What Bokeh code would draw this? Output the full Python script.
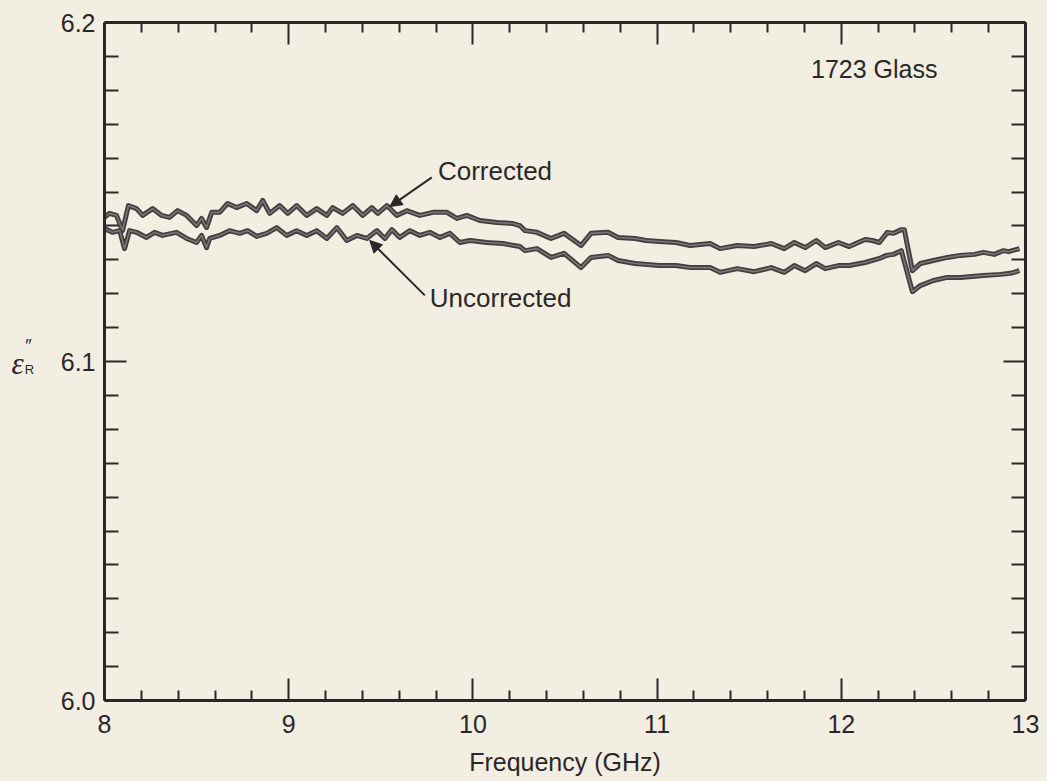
from bokeh.plotting import figure
from bokeh.layouts import row
from bokeh.models import (Range1d, FixedTicker, LinearAxis, Label, Arrow, NormalHead,
                          PrintfTickFormatter)
from bokeh.core.properties import value
from bokeh.embed import file_html
from bokeh.resources import INLINE

# Loss factor of 1723 glass versus frequency
freq_corrected = [
    8.000, 8.027, 8.065, 8.098, 8.130, 8.174, 8.207, 8.261, 8.310, 8.353,
    8.397, 8.446, 8.500, 8.527, 8.554, 8.582, 8.625, 8.668, 8.717, 8.772,
    8.826, 8.859, 8.897, 8.951, 8.995, 9.043, 9.098, 9.152, 9.207, 9.239,
    9.293, 9.348, 9.402, 9.451, 9.484, 9.533, 9.587, 9.641, 9.712, 9.783,
    9.859, 9.913, 9.967, 10.038, 10.130, 10.217, 10.255, 10.283, 10.348, 10.424,
    10.495, 10.587, 10.641, 10.734, 10.788, 10.880, 10.940, 11.011, 11.103, 11.179,
    11.288, 11.342, 11.435, 11.527, 11.620, 11.690, 11.745, 11.804, 11.864, 11.913,
    11.984, 12.043, 12.092, 12.130, 12.168, 12.207, 12.250, 12.283, 12.326, 12.342,
    12.386, 12.429, 12.500, 12.576, 12.647, 12.723, 12.772, 12.830, 12.880, 12.908,
    12.967,
]
eps_corrected = [
    6.1425, 6.1437, 6.1431, 6.1386, 6.1460, 6.1451, 6.1431, 6.1451, 6.1431, 6.1425,
    6.1445, 6.1431, 6.1401, 6.1422, 6.1395, 6.1440, 6.1440, 6.1466, 6.1454, 6.1466,
    6.1445, 6.1475, 6.1437, 6.1460, 6.1437, 6.1460, 6.1431, 6.1451, 6.1431, 6.1454,
    6.1437, 6.1460, 6.1431, 6.1454, 6.1437, 6.1460, 6.1431, 6.1445, 6.1431, 6.1440,
    6.1440, 6.1422, 6.1431, 6.1416, 6.1410, 6.1407, 6.1401, 6.1386, 6.1381, 6.1363,
    6.1378, 6.1342, 6.1378, 6.1381, 6.1366, 6.1363, 6.1357, 6.1354, 6.1351, 6.1342,
    6.1348, 6.1333, 6.1342, 6.1339, 6.1348, 6.1333, 6.1351, 6.1336, 6.1357, 6.1336,
    6.1351, 6.1339, 6.1351, 6.1360, 6.1357, 6.1351, 6.1381, 6.1378, 6.1389, 6.1389,
    6.1268, 6.1289, 6.1298, 6.1307, 6.1313, 6.1316, 6.1322, 6.1316, 6.1327, 6.1324,
    6.1333,
]

freq_uncorrected = [
    8.000, 8.043, 8.082, 8.109, 8.136, 8.174, 8.228, 8.272, 8.315, 8.391,
    8.446, 8.500, 8.527, 8.554, 8.571, 8.625, 8.679, 8.734, 8.777, 8.826,
    8.880, 8.935, 8.989, 9.043, 9.098, 9.152, 9.207, 9.261, 9.315, 9.370,
    9.424, 9.478, 9.522, 9.560, 9.603, 9.658, 9.712, 9.766, 9.821, 9.875,
    9.929, 9.984, 10.076, 10.163, 10.255, 10.283, 10.348, 10.424, 10.495, 10.587,
    10.641, 10.734, 10.788, 10.880, 11.011, 11.103, 11.179, 11.288, 11.342, 11.435,
    11.527, 11.620, 11.690, 11.745, 11.804, 11.864, 11.913, 11.984, 12.043, 12.130,
    12.207, 12.245, 12.283, 12.326, 12.386, 12.429, 12.500, 12.576, 12.647, 12.772,
    12.864, 12.918, 12.967,
]
eps_uncorrected = [
    6.1392, 6.1381, 6.1386, 6.1333, 6.1386, 6.1381, 6.1366, 6.1381, 6.1372, 6.1381,
    6.1363, 6.1351, 6.1372, 6.1336, 6.1363, 6.1372, 6.1386, 6.1378, 6.1386, 6.1369,
    6.1378, 6.1395, 6.1372, 6.1386, 6.1372, 6.1386, 6.1363, 6.1395, 6.1357, 6.1372,
    6.1363, 6.1386, 6.1363, 6.1389, 6.1366, 6.1386, 6.1372, 6.1381, 6.1366, 6.1378,
    6.1351, 6.1357, 6.1351, 6.1348, 6.1339, 6.1327, 6.1333, 6.1307, 6.1319, 6.1277,
    6.1307, 6.1313, 6.1298, 6.1289, 6.1283, 6.1283, 6.1277, 6.1277, 6.1263, 6.1274,
    6.1265, 6.1277, 6.1263, 6.1283, 6.1268, 6.1289, 6.1274, 6.1283, 6.1283, 6.1292,
    6.1304, 6.1313, 6.1316, 6.1327, 6.1206, 6.1224, 6.1239, 6.1248, 6.1248, 6.1254,
    6.1257, 6.1260, 6.1268,
]

x_major = [8, 9, 10, 11, 12, 13]
x_minor = [8.2, 8.4, 8.6, 8.8, 9.2, 9.4, 9.6, 9.8, 10.2, 10.4, 10.6, 10.8,
           11.2, 11.4, 11.6, 11.8, 12.2, 12.4, 12.6, 12.8]
y_major = [6.0, 6.1, 6.2]
y_minor = [6.01, 6.02, 6.03, 6.04, 6.05, 6.06, 6.07, 6.08, 6.09,
           6.11, 6.12, 6.13, 6.14, 6.15, 6.16, 6.17, 6.18, 6.19]

PAPER = "#f3eee2"
INK = "#2b2727"
TRACE = "#433d3d"
FONT = "Liberation Sans"

LEFT_STRIP = 40
FRAME_W, FRAME_H = 921, 678
BORDER_TOP, BORDER_BOTTOM = 22, 81

# narrow strip carrying the y-axis symbol (epsilon double-prime, subscript R);
# it shares the vertical scale of the main plot, x runs in pixels
sym = figure(frame_width=LEFT_STRIP, frame_height=FRAME_H,
             x_range=Range1d(0, LEFT_STRIP), y_range=Range1d(6.0, 6.2),
             output_backend="svg", toolbar_location=None,
             min_border_left=0, min_border_right=0,
             min_border_top=BORDER_TOP, min_border_bottom=BORDER_BOTTOM,
             x_axis_location=None, y_axis_location=None)
sym.title.visible = False
sym.grid.visible = False
sym.outline_line_color = None
sym.background_fill_color = PAPER
sym.border_fill_color = PAPER
sym.text(x=[17], y=[6.0995], text=["ε"], text_font=value("Liberation Serif"),
         text_font_style="italic", text_font_size="31px", text_color=INK,
         text_align="center", text_baseline="middle")
sym.text(x=[28], y=[6.1045], text=["″"], text_font=value(FONT),
         text_font_size="18px", text_color=INK, text_align="center", text_baseline="middle")
sym.text(x=[29], y=[6.0977], text=["R"], text_font=value(FONT),
         text_font_size="13px", text_color=INK, text_align="center", text_baseline="middle")

p = figure(
    frame_width=FRAME_W, frame_height=FRAME_H,
    min_border_left=104 - LEFT_STRIP, min_border_right=22,
    min_border_top=BORDER_TOP, min_border_bottom=BORDER_BOTTOM,
    x_range=Range1d(8, 13), y_range=Range1d(6.0, 6.2),
    output_backend="svg", toolbar_location=None,
)
p.title.visible = False
p.background_fill_color = PAPER
p.border_fill_color = PAPER
p.outline_line_color = None
p.xgrid.visible = False
p.ygrid.visible = False


def style_axis(ax, major_len, minor_len, labels):
    ax.axis_line_width = 3
    ax.axis_line_color = INK
    ax.major_tick_in = major_len
    ax.major_tick_out = 0
    ax.minor_tick_in = minor_len
    ax.minor_tick_out = 0
    ax.major_tick_line_width = 2
    ax.minor_tick_line_width = 2
    ax.major_tick_line_color = INK
    ax.minor_tick_line_color = INK
    if labels:
        ax.major_label_text_font = FONT
        ax.major_label_text_font_size = "25px"
        ax.major_label_text_color = INK
    else:
        ax.major_label_text_font_size = "0px"
        ax.major_label_text_color = None
        ax.major_label_standoff = 0


xt = FixedTicker(ticks=x_major, minor_ticks=x_minor)
yt = FixedTicker(ticks=y_major, minor_ticks=y_minor)

p.xaxis.ticker = xt
p.yaxis.ticker = yt
p.yaxis.formatter = PrintfTickFormatter(format="%.1f")
style_axis(p.xaxis[0], 22, 10, True)
style_axis(p.yaxis[0], 22, 14, True)
p.xaxis.major_label_standoff = 14
p.yaxis.major_label_standoff = 9
p.xaxis.axis_label = "Frequency (GHz)"
p.xaxis.axis_label_text_font = FONT
p.xaxis.axis_label_text_font_size = "25px"
p.xaxis.axis_label_text_font_style = "normal"
p.xaxis.axis_label_text_color = INK
p.xaxis.axis_label_standoff = 12

top = LinearAxis(ticker=xt)
style_axis(top, 22, 10, False)
p.add_layout(top, "above")
right = LinearAxis(ticker=yt)
style_axis(right, 22, 14, False)
p.add_layout(right, "right")

# measured traces: dark pen stroke with a lighter core
for fx, ey in ((freq_corrected, eps_corrected), (freq_uncorrected, eps_uncorrected)):
    p.line(fx, ey, line_width=5, line_color=TRACE, line_join="round")
    p.line(fx, ey, line_width=1.6, line_color="#7d7575", line_join="round")

# annotations
p.add_layout(Label(x=12.522, y=6.1864, text="1723 Glass", text_font=FONT,
                   text_font_size="25px", text_color=INK,
                   text_align="right", text_baseline="middle"))
p.add_layout(Label(x=9.810, y=6.1563, text="Corrected", text_font=FONT,
                   text_font_size="26px", text_color=INK,
                   text_align="left", text_baseline="middle"))
p.add_layout(Label(x=9.766, y=6.1186, text="Uncorrected", text_font=FONT,
                   text_font_size="26px", text_color=INK,
                   text_align="left", text_baseline="middle"))

p.add_layout(Arrow(x_start=9.777, y_start=6.1543, x_end=9.549, y_end=6.1457,
                   line_width=2, line_color=INK,
                   end=NormalHead(size=12, fill_color=INK, line_color=INK)))
p.add_layout(Arrow(x_start=9.739, y_start=6.1195, x_end=9.440, y_end=6.1357,
                   line_width=2, line_color=INK,
                   end=NormalHead(size=12, fill_color=INK, line_color=INK)))

layout = row(sym, p, spacing=0, styles={"background-color": PAPER})
open("out.html", "w").write(file_html(layout, INLINE))
